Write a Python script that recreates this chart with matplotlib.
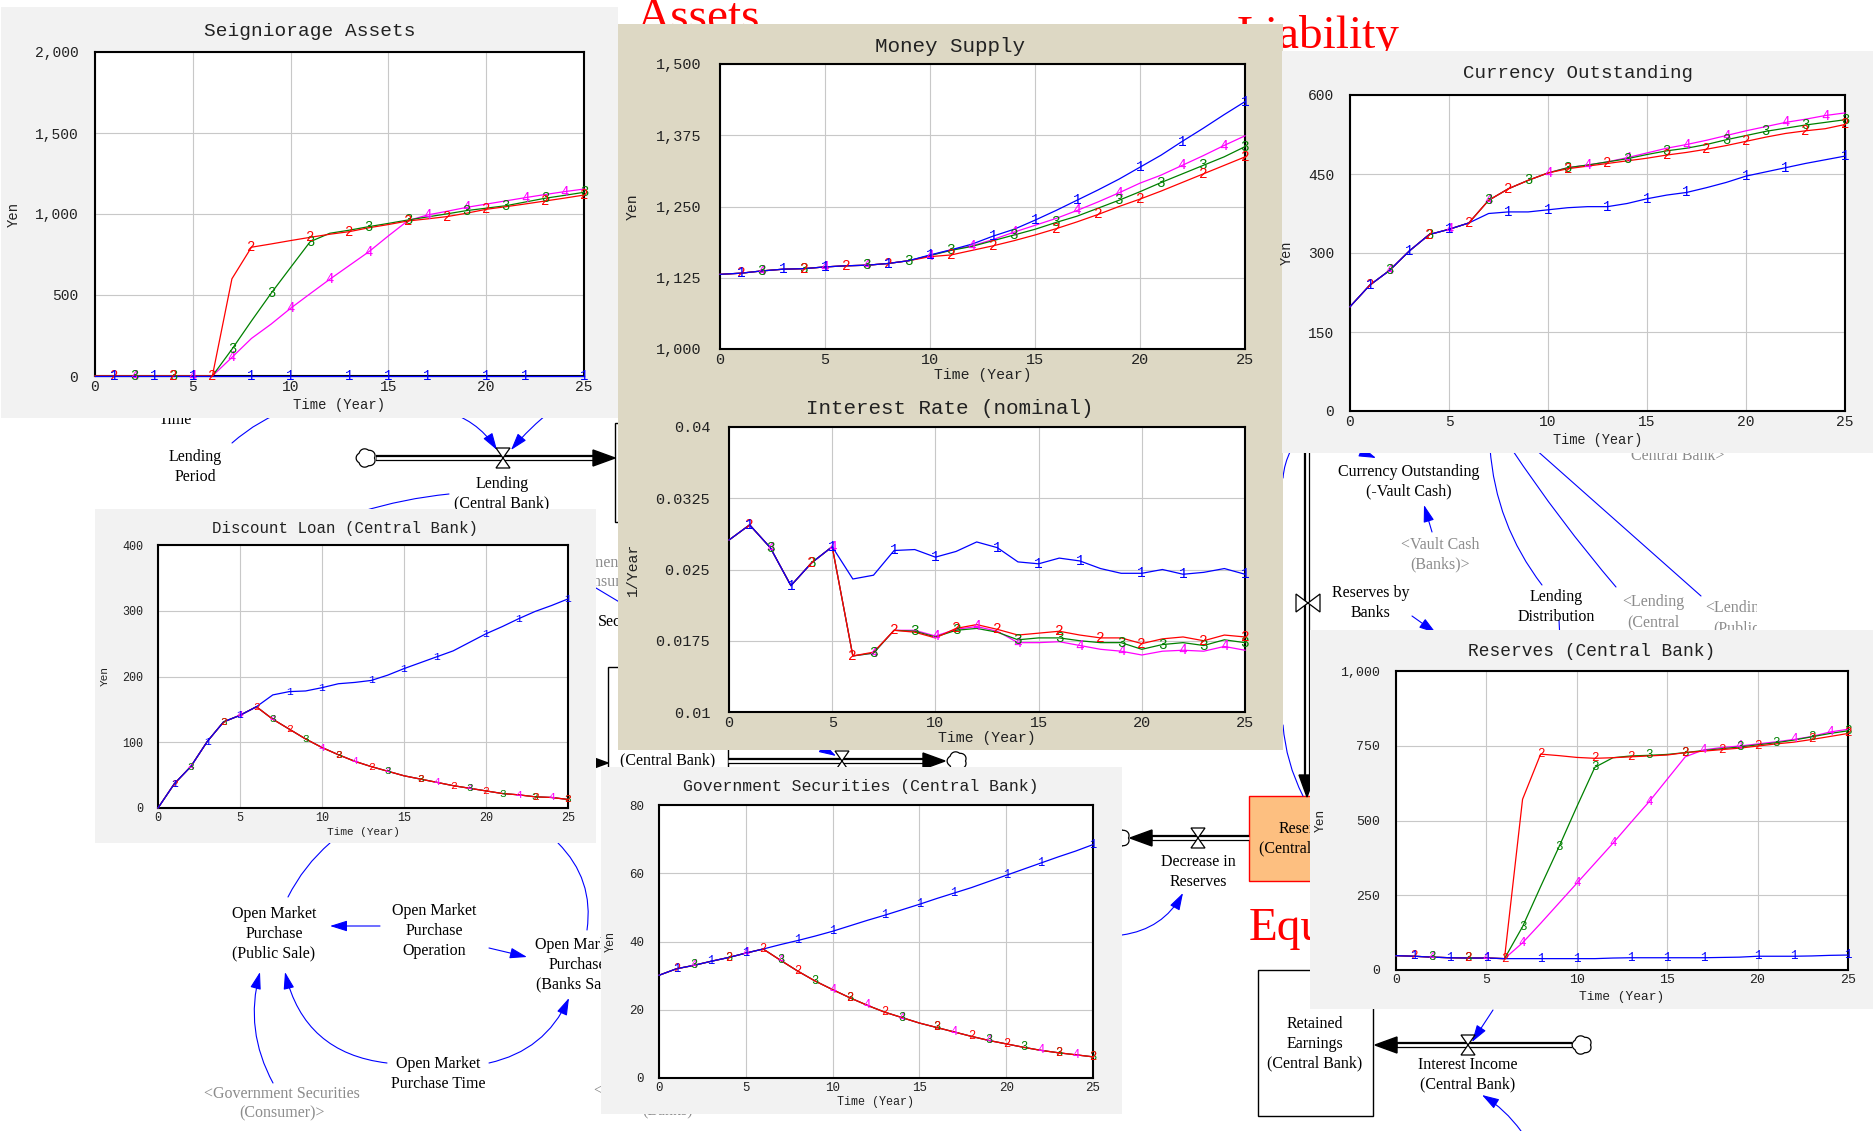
"""Vensim-style central bank model: stock/flow diagram with simulation panels on top."""

import matplotlib

matplotlib.use("Agg")
import matplotlib.pyplot as plt
import numpy as np
from matplotlib.patches import FancyArrowPatch, Polygon, Rectangle

W, H = 1874, 1131
YEARS = list(range(26))
X_TICKS = [0, 5, 10, 15, 20, 25]
RUN_COLORS = ["#0000FF", "#FF0000", "#008000", "#FF00FF"]
# years where Vensim stamps the run number on each line
MARK_YEARS = [
    [1, 3, 5, 8, 10, 13, 15, 17, 20, 22, 25],
    [1, 4, 6, 8, 11, 13, 16, 18, 20, 23, 25],
    [2, 4, 7, 9, 11, 14, 16, 19, 21, 23, 25],
    [2, 5, 7, 10, 12, 14, 17, 19, 22, 24],
]

# --- Seigniorage Assets (Yen)
SEIG_1 = [0, 0, 0, 0, 0, 0, 0, 0, 0, 0, 0, 0, 0, 0, 0, 0, 0, 0, 0, 0, 0, 0, 0, 0, 0, 0]
SEIG_2 = [0, 0, 0, 0, 0, 0, 0, 600, 795, 815, 836, 856, 875, 891, 915, 935, 957, 970, 984, 1005, 1029, 1045, 1062, 1080, 1098, 1117]
SEIG_3 = [0, 0, 0, 0, 0, 0, 0, 165, 340, 510, 670, 829, 881, 900, 922, 942, 963, 982, 1001, 1021, 1036, 1051, 1074, 1097, 1115, 1134]
SEIG_4 = [0, 0, 0, 0, 0, 0, 0, 115, 232, 320, 418, 508, 597, 682, 767, 865, 959, 994, 1017, 1041, 1061, 1081, 1101, 1120, 1138, 1154]
SEIG_TICKS = [0, 500, 1000, 1500, 2000]
SEIG_LABELS = ["0", "500", "1,000", "1,500", "2,000"]

# --- Money Supply (Yen)
MS_1 = [1131, 1133, 1137, 1140, 1141, 1144, 1146, 1147, 1150, 1155, 1165, 1174, 1184, 1198, 1210, 1226, 1243, 1261, 1279, 1298, 1319, 1340, 1364, 1387, 1411, 1434]
MS_2 = [1131, 1133, 1137, 1140, 1141, 1144, 1146, 1147, 1150, 1155, 1162, 1165, 1173, 1181, 1190, 1200, 1211, 1223, 1236, 1250, 1263, 1277, 1292, 1307, 1322, 1337]
MS_3 = [1131, 1133, 1137, 1140, 1141, 1144, 1146, 1147, 1150, 1155, 1164, 1173, 1180, 1190, 1200, 1210, 1222, 1233, 1247, 1261, 1276, 1292, 1307, 1322, 1337, 1355]
MS_4 = [1131, 1133, 1137, 1140, 1141, 1144, 1146, 1147, 1150, 1155, 1164, 1174, 1181, 1192, 1205, 1217, 1229, 1243, 1258, 1274, 1291, 1305, 1322, 1339, 1357, 1374]
MS_TICKS = [1000, 1125, 1250, 1375, 1500]
MS_LABELS = ["1,000", "1,125", "1,250", "1,375", "1,500"]

# --- Interest Rate (nominal) (1/Year)
IR_1 = [0.0281, 0.0297, 0.0273, 0.0233, 0.0257, 0.0274, 0.0240, 0.0244, 0.0270, 0.0271, 0.0263, 0.0269, 0.0279,
        0.0273, 0.0258, 0.0256, 0.0262, 0.0259, 0.0251, 0.0246, 0.0246, 0.0250, 0.0245, 0.0247, 0.0251, 0.0245]
IR_2 = [0.0281, 0.0297, 0.0273, 0.0233, 0.0257, 0.0274, 0.0159, 0.0163, 0.0186, 0.0184, 0.0178, 0.0188, 0.0192,
        0.0187, 0.0181, 0.0183, 0.0185, 0.0181, 0.0178, 0.0178, 0.0172, 0.0177, 0.0179, 0.0175, 0.0181, 0.0179]
IR_3 = [0.0281, 0.0297, 0.0273, 0.0233, 0.0257, 0.0274, 0.0159, 0.0162, 0.0186, 0.0185, 0.0179, 0.0186, 0.0188,
        0.0184, 0.0176, 0.0178, 0.0178, 0.0175, 0.0173, 0.0173, 0.0166, 0.0171, 0.0173, 0.0170, 0.0176, 0.0173]
IR_4 = [0.0281, 0.0297, 0.0273, 0.0233, 0.0257, 0.0274, 0.0159, 0.0162, 0.0186, 0.0186, 0.0180, 0.0187, 0.0190,
        0.0185, 0.0173, 0.0173, 0.0174, 0.0170, 0.0166, 0.0164, 0.0160, 0.0164, 0.0165, 0.0164, 0.0169, 0.0165]
IR_TICKS = [0.01, 0.0175, 0.025, 0.0325, 0.04]
IR_LABELS = ["0.01", "0.0175", "0.025", "0.0325", "0.04"]

# --- Currency Outstanding (Yen)
CO_1 = [198, 239, 267, 304, 335, 345, 357, 375, 378, 378, 382, 386, 388, 388, 394, 403, 410, 415, 424, 434, 446, 454, 462, 470, 477, 484]
CO_2 = [198, 239, 267, 304, 335, 345, 357, 400, 422, 438, 452, 460, 465, 470, 475, 480, 486, 491, 497, 504, 512, 520, 527, 532, 536, 544]
CO_3 = [198, 239, 267, 304, 335, 345, 357, 400, 422, 438, 452, 462, 467, 473, 479, 487, 494, 499, 506, 515, 523, 531, 537, 543, 548, 553]
CO_4 = [198, 239, 267, 304, 335, 345, 357, 400, 422, 438, 452, 462, 467, 473, 481, 490, 499, 506, 514, 523, 532, 540, 548, 554, 561, 566]
CO_TICKS = [0, 150, 300, 450, 600]

# --- Discount Loan (Central Bank) (Yen); runs 2-4 coincide
DL_1 = [0, 37, 63, 101, 131, 141, 154, 172, 177, 178, 183, 189, 191, 194, 202, 212, 221, 230, 239, 252, 265, 276, 288, 299, 308, 318]
DL_2 = [0, 37, 63, 101, 131, 141, 154, 135, 120, 105, 92, 81, 71, 63, 56, 49, 44, 39, 34, 30, 26, 22, 20, 17, 16, 13]
DL_TICKS = [0, 100, 200, 300, 400]

# --- Government Securities (Central Bank) (Yen); runs 2-4 coincide
GS_1 = [30.1, 32.0, 33.0, 34.2, 35.3, 36.6, 37.8, 39.1, 40.3, 41.6, 43.0, 44.6, 46.2, 47.7, 49.3, 50.9, 52.6,
        54.2, 55.8, 57.6, 59.4, 61.2, 63.0, 64.8, 66.5, 68.4]
GS_2 = [30.1, 32.0, 33.0, 34.2, 35.3, 36.6, 37.8, 34.5, 31.3, 28.4, 25.9, 23.5, 21.3, 19.3, 17.7, 16.1, 14.8,
        13.5, 12.2, 11.0, 10.0, 9.0, 8.1, 7.4, 6.8, 6.2]
GS_TICKS = [0, 20, 40, 60, 80]

# --- Reserves (Central Bank) (Yen)
RS_1 = [48, 46, 43, 41, 40, 40, 38, 38, 38, 38, 38, 38, 40, 41, 41, 41, 41, 41, 42, 43, 46, 46, 46, 47, 49, 50]
RS_2 = [48, 46, 43, 41, 40, 40, 38, 571, 722, 717, 711, 708, 710, 713, 716, 719, 727, 732, 737, 742, 749, 756, 762, 771, 781, 791]
RS_3 = [48, 46, 43, 41, 40, 40, 38, 145, 279, 410, 546, 678, 710, 716, 718, 721, 727, 734, 740, 746, 753, 760, 769, 780, 791, 800]
RS_4 = [48, 46, 43, 41, 40, 40, 38, 91, 156, 223, 290, 357, 424, 494, 563, 638, 713, 736, 744, 749, 756, 763, 771, 781, 796, 805]
RS_TICKS = [0, 250, 500, 750, 1000]
RS_LABELS = ["0", "250", "500", "750", "1,000"]

PANEL_GRAY = "#F2F2F2"
PANEL_BEIGE = "#DDD8C4"
GRID = "#C8C8C8"
LINK = "#0000FF"
SHADOW = "#8C8C8C"
STOCK_ORANGE = "#FDBF80"
MONO = "Liberation Mono"
SERIF = "Liberation Serif"

fig = plt.figure(figsize=(W / 100, H / 100), dpi=100)
base = fig.add_axes([0, 0, 1, 1], zorder=0)
base.set_xlim(0, W)
base.set_ylim(H, 0)
base.axis("off")


def fig_box(x0, y0, x1, y1):
    return [x0 / W, 1 - y1 / H, (x1 - x0) / W, (y1 - y0) / H]


# ---------------- diagram helpers (pixel coords, y down)
def label(x, y, text, color="black", **kw):
    base.text(x, y, text, color=color, family=SERIF, fontsize=11.5, ha="center", va="center",
              linespacing=1.3, zorder=3, **kw)


def link(p0, p1, rad=0.0, head=True):
    style = "-|>,head_length=0.7,head_width=0.22" if head else "-"
    base.add_patch(FancyArrowPatch(p0, p1, arrowstyle=style, connectionstyle=f"arc3,rad={rad}",
                                   mutation_scale=15, color=LINK, lw=0.8, shrinkA=0, shrinkB=0, zorder=2))


def pipe(p0, p1):
    (x0, y0), (x1, y1) = p0, p1
    L = np.hypot(x1 - x0, y1 - y0)
    ux, uy = (x1 - x0) / L, (y1 - y0) / L
    hx, hy = x1 - 22 * ux, y1 - 22 * uy
    base.plot([x0, hx], [y0, hy], color="black", lw=4.5, solid_capstyle="butt", zorder=2)
    base.plot([x0, hx], [y0, hy], color="white", lw=2.0, solid_capstyle="butt", zorder=2)
    base.add_patch(Polygon([(x1, y1), (hx - 8 * uy, hy + 8 * ux), (hx + 8 * uy, hy - 8 * ux)],
                           closed=True, color="black", zorder=2))


def valve(x, y, sideways=False):
    if sideways:
        pts = [(x - 12, y - 9), (x - 12, y + 9), (x + 12, y - 9), (x + 12, y + 9)]
    else:
        pts = [(x - 7, y - 10), (x + 7, y - 10), (x - 7, y + 10), (x + 7, y + 10)]
    base.add_patch(Polygon(pts, closed=True, fc="white", ec="black", lw=0.9, zorder=3))


def cloud(x, y, r=8.5):
    th = np.linspace(0, 2 * np.pi, 120)
    rr = r * (1 + 0.16 * np.abs(np.sin(2.5 * th)))
    base.add_patch(Polygon(np.c_[x + rr * np.cos(th), y + 0.95 * rr * np.sin(th)],
                           fc="white", ec="black", lw=0.9, zorder=3))


def stock(x0, y0, x1, y1, fc="white", ec="black"):
    base.add_patch(Rectangle((x0, y0), x1 - x0, y1 - y0, fc=fc, ec=ec, lw=1.0, zorder=1))


# ---------------- background model diagram
for txt, x, y in [("Assets", 637, 30), ("Liability", 1237, 48), ("Equity", 1249, 940)]:
    base.text(x, y, txt, color="red", family=SERIF, fontsize=34, ha="left", va="baseline", zorder=3)

# lending flow (top left)
stock(615, 423, 735, 522)
pipe((376, 458), (615, 458))
cloud(366, 458)
valve(503, 458)
label(502, 494, "Lending\n(Central Bank)")
label(195, 467, "Lending\nPeriod")
base.text(175, 424, "Time", family=SERIF, fontsize=11.5, ha="center", va="baseline", zorder=3)
link((232, 443), (292, 408), rad=-0.1, head=False)
link((441, 410), (497, 450), rad=-0.2)
link((552, 410), (511, 450), rad=0.05)
link((449, 494), (360, 512), rad=0.05, head=False)

# government securities stock (middle)
label(612, 573, "<Government Securities\n(Consumer)>", color=SHADOW)
base.text(598, 622, "Securities", family=SERIF, fontsize=11.5, ha="left", va="center", zorder=3)
link((596, 588), (626, 606), rad=0.0, head=False)
stock(608, 667, 728, 800)
label(668, 741, "Government\nSecurities\n(Central Bank)")
pipe((560, 763), (608, 763))
pipe((728, 761), (945, 761))
cloud(957, 761)
valve(842, 761)
link((800, 735), (836, 756), rad=0.0)

# open market purchase block (bottom left)
label(274, 934, "Open Market\nPurchase\n(Public Sale)")
label(434, 931, "Open Market\nPurchase\nOperation")
label(577, 965, "Open Market\nPurchase\n(Banks Sale)")
label(438, 1074, "Open Market\nPurchase Time")
label(282, 1104, "<Government Securities\n(Consumer)>", color=SHADOW)
label(672, 1101, "<Government Securities\n(Banks)>", color=SHADOW)
link((330, 843), (288, 897), rad=0.1, head=False)
link((558, 843), (587, 930), rad=-0.25, head=False)
link((380, 926), (330, 926))
link((489, 948), (527, 957))
link((387, 1063), (285, 972), rad=-0.35)
link((489, 1063), (569, 998), rad=0.25)
link((273, 1083), (260, 972), rad=-0.2)

# reserves block (right)
base.add_patch(Rectangle((1757, 453), W - 1757, 180, fc="white", ec="none", zorder=8))
pipe((1307, 440), (1307, 797))
valve(1308, 603, sideways=True)
label(1371, 603, "Reserves by\nBanks")
label(1409, 482, "Currency Outstanding\n(-Vault Cash)")
label(1440, 555, "<Vault Cash\n(Banks)>", color=SHADOW)
label(1556, 607, "Lending\nDistribution")
label(1653, 622, "<Lending\n(Central\nBank)>", color=SHADOW)
label(1736, 628, "<Lending\n(Public\nSector)>", color=SHADOW)
label(1678, 456, "Central Bank>", color=SHADOW)
link((1432, 532), (1424, 505))
link((1340, 443), (1376, 458))
link((1490, 448), (1542, 585), rad=0.15, head=False)
link((1511, 448), (1616, 587), rad=0.03, head=False)
link((1534, 448), (1701, 596), rad=0.0, head=False)
link((1412, 616), (1436, 633))
link((1559, 620), (1560, 640), head=False)
link((1291, 450), (1283, 478), rad=0.1, head=False)
link((1283, 725), (1303, 796), rad=0.1, head=False)

stock(1249.5, 796, 1365, 881, fc=STOCK_ORANGE, ec="red")
label(1307, 839, "Reserves\n(Central Bank)")
pipe((1249.5, 838), (1130, 838))
cloud(1120, 838)
valve(1198, 838)
label(1198, 872, "Decrease in\nReserves")
link((1122, 935), (1183, 893), rad=0.25)

stock(1258, 970, 1373, 1116)
label(1315, 1044, "Retained\nEarnings\n(Central Bank)")
pipe((1572, 1045), (1375, 1045))
cloud(1582, 1045)
valve(1468, 1045)
label(1468, 1075, "Interest Income\n(Central Bank)")
link((1493, 1010), (1472, 1042))
link((1521, 1131), (1482, 1095), rad=0.1)


# ---------------- simulation panels
def panel_bg(x0, y0, x1, y1, color):
    base.add_patch(Rectangle((x0, y0), x1 - x0, y1 - y0, fc=color, ec="none", zorder=10))


def draw_panel(box, title, title_xy, yticks, ylabels, ylabel, ylabel_x, xlabel_y, sizes, ypad, runs):
    title_fs, tick_fs, label_fs = sizes
    x0, y0, x1, y1 = box
    ax = fig.add_axes(fig_box(*box), zorder=5)
    for k in (3, 2, 1, 0):
        vals = runs[k]
        c = RUN_COLORS[k]
        ax.plot(YEARS, vals, color=c, lw=0.9, zorder=3, clip_on=False)
        for t in MARK_YEARS[k]:
            ax.text(t, vals[t], str(k + 1), color=c, family=MONO, fontsize=tick_fs * 0.95,
                    ha="center", va="center", zorder=4, clip_on=False)
    ax.set_xlim(0, 25)
    ax.set_ylim(yticks[0], yticks[-1])
    ax.set_xticks(X_TICKS, [str(v) for v in X_TICKS])
    ax.set_yticks(yticks, ylabels)
    ax.tick_params(length=0, labelsize=tick_fs, labelcolor="#222222")
    ax.tick_params(axis="y", pad=ypad)
    ax.tick_params(axis="x", pad=3)
    for lab in ax.get_xticklabels() + ax.get_yticklabels():
        lab.set_family(MONO)
    ax.grid(True, color=GRID, lw=0.8)
    ax.set_axisbelow(True)
    for s in ax.spines.values():
        s.set_linewidth(1.5)
    base.text(title_xy[0], title_xy[1], title, family=MONO, fontsize=title_fs, color="#222222",
              ha="center", va="center", zorder=12)
    base.text((x0 + x1) / 2, xlabel_y, "Time (Year)", family=MONO, fontsize=label_fs, color="#222222",
              ha="center", va="center", zorder=12)
    base.text(ylabel_x, (y0 + y1) / 2, ylabel, family=MONO, fontsize=label_fs, color="#222222",
              rotation=90, ha="center", va="center", zorder=12)
    return ax


panel_bg(1, 7, 618, 418, PANEL_GRAY)
panel_bg(618, 24, 1283, 750, PANEL_BEIGE)
panel_bg(1282, 51, W, 453, PANEL_GRAY)
panel_bg(95, 509, 596, 843, PANEL_GRAY)
panel_bg(601, 767, 1122, 1114, PANEL_GRAY)
panel_bg(1310, 630, W, 1009, PANEL_GRAY)

draw_panel((95, 52, 584, 376), "Seigniorage Assets", (310, 32), SEIG_TICKS, SEIG_LABELS, "Yen",
           14, 405, (14, 10.5, 10), 12, [SEIG_1, SEIG_2, SEIG_3, SEIG_4])
draw_panel((720, 64, 1245, 349), "Money Supply", (950, 46), MS_TICKS, MS_LABELS, "Yen",
           633, 375, (15, 11, 10.6), 13.5, [MS_1, MS_2, MS_3, MS_4])
draw_panel((729, 427, 1245, 712), "Interest Rate (nominal)", (950, 408), IR_TICKS, IR_LABELS, "1/Year",
           633, 738, (15, 11, 10.7), 13.5, [IR_1, IR_2, IR_3, IR_4])
draw_panel((1350, 95, 1845, 411), "Currency Outstanding", (1578, 74), CO_TICKS, [str(v) for v in CO_TICKS], "Yen",
           1287, 440, (13.8, 10.5, 9.8), 11.5, [CO_1, CO_2, CO_3, CO_4])
draw_panel((158, 545, 568, 808), "Discount Loan (Central Bank)", (345, 528), DL_TICKS, [str(v) for v in DL_TICKS], "Yen",
           105, 832, (11.3, 8.5, 8), 10.8, [DL_1, DL_2, DL_2, DL_2])
draw_panel((659, 805, 1093, 1078), "Government Securities (Central Bank)", (861, 787), GS_TICKS,
           [str(v) for v in GS_TICKS], "Yen", 611, 1102, (11.9, 9, 8.5), 10.8, [GS_1, GS_2, GS_2, GS_2])
draw_panel((1396, 671, 1848, 970), "Reserves (Central Bank)", (1592, 652), RS_TICKS, RS_LABELS, "Yen",
           1321, 997, (12.9, 9.5, 9.3), 11.2, [RS_1, RS_2, RS_3, RS_4])

fig.savefig("out.png", dpi=100)
